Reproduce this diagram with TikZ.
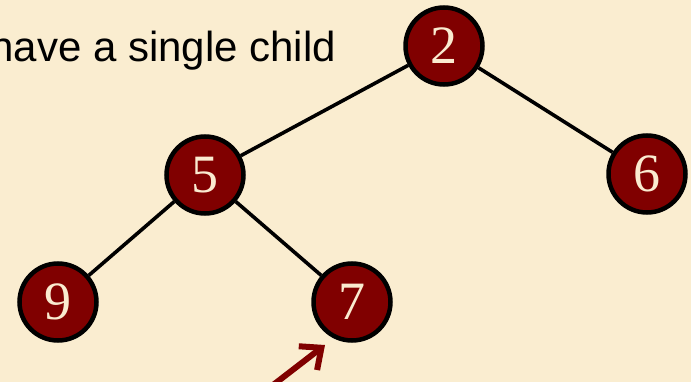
\documentclass[tikz,border=0pt]{standalone}
\usepackage{fontspec}
\setmainfont{Liberation Serif}
\newfontfamily\arialfont{Liberation Sans}
\usetikzlibrary{arrows.meta}
\definecolor{bg}{HTML}{FAEDD0}
\definecolor{nodered}{HTML}{800000}
\definecolor{cream}{HTML}{FAEBD0}
\begin{document}
\begin{tikzpicture}[x=1pt,y=-1pt,
  treenode/.style={circle, draw=black, line width=4.5pt, fill=nodered, minimum size=77pt, inner sep=0pt, text=cream, font=\fontsize{54}{54}\selectfont},
  edge/.style={line width=3.6pt},
  pointer/.style={draw=nodered, line width=6pt, -{Straight Barb[length=17pt, width=30pt, line width=6pt]}}]
\path[fill=bg, use as bounding box] (0,0) rectangle (691,382);
\node[anchor=base west, font=\arialfont\fontsize{42}{42}\selectfont] (caption) at (-13,62) {have a single child};
\node[treenode] (n2) at (444,46) {2};
\node[treenode] (n5) at (205,175) {5};
\node[treenode] (n6) at (647,174) {6};
\node[treenode] (n9) at (58,302) {9};
\node[treenode] (n7) at (352,302) {7};
\draw[edge] (n2) -- (n5);
\draw[edge] (n2) -- (n6);
\draw[edge] (n5) -- (n9);
\draw[edge] (n5) -- (n7);
\coordinate (a0) at (229,419);
\coordinate (atip) at (325,345);
\draw[pointer] (a0) -- (atip);
\end{tikzpicture}
\end{document}
